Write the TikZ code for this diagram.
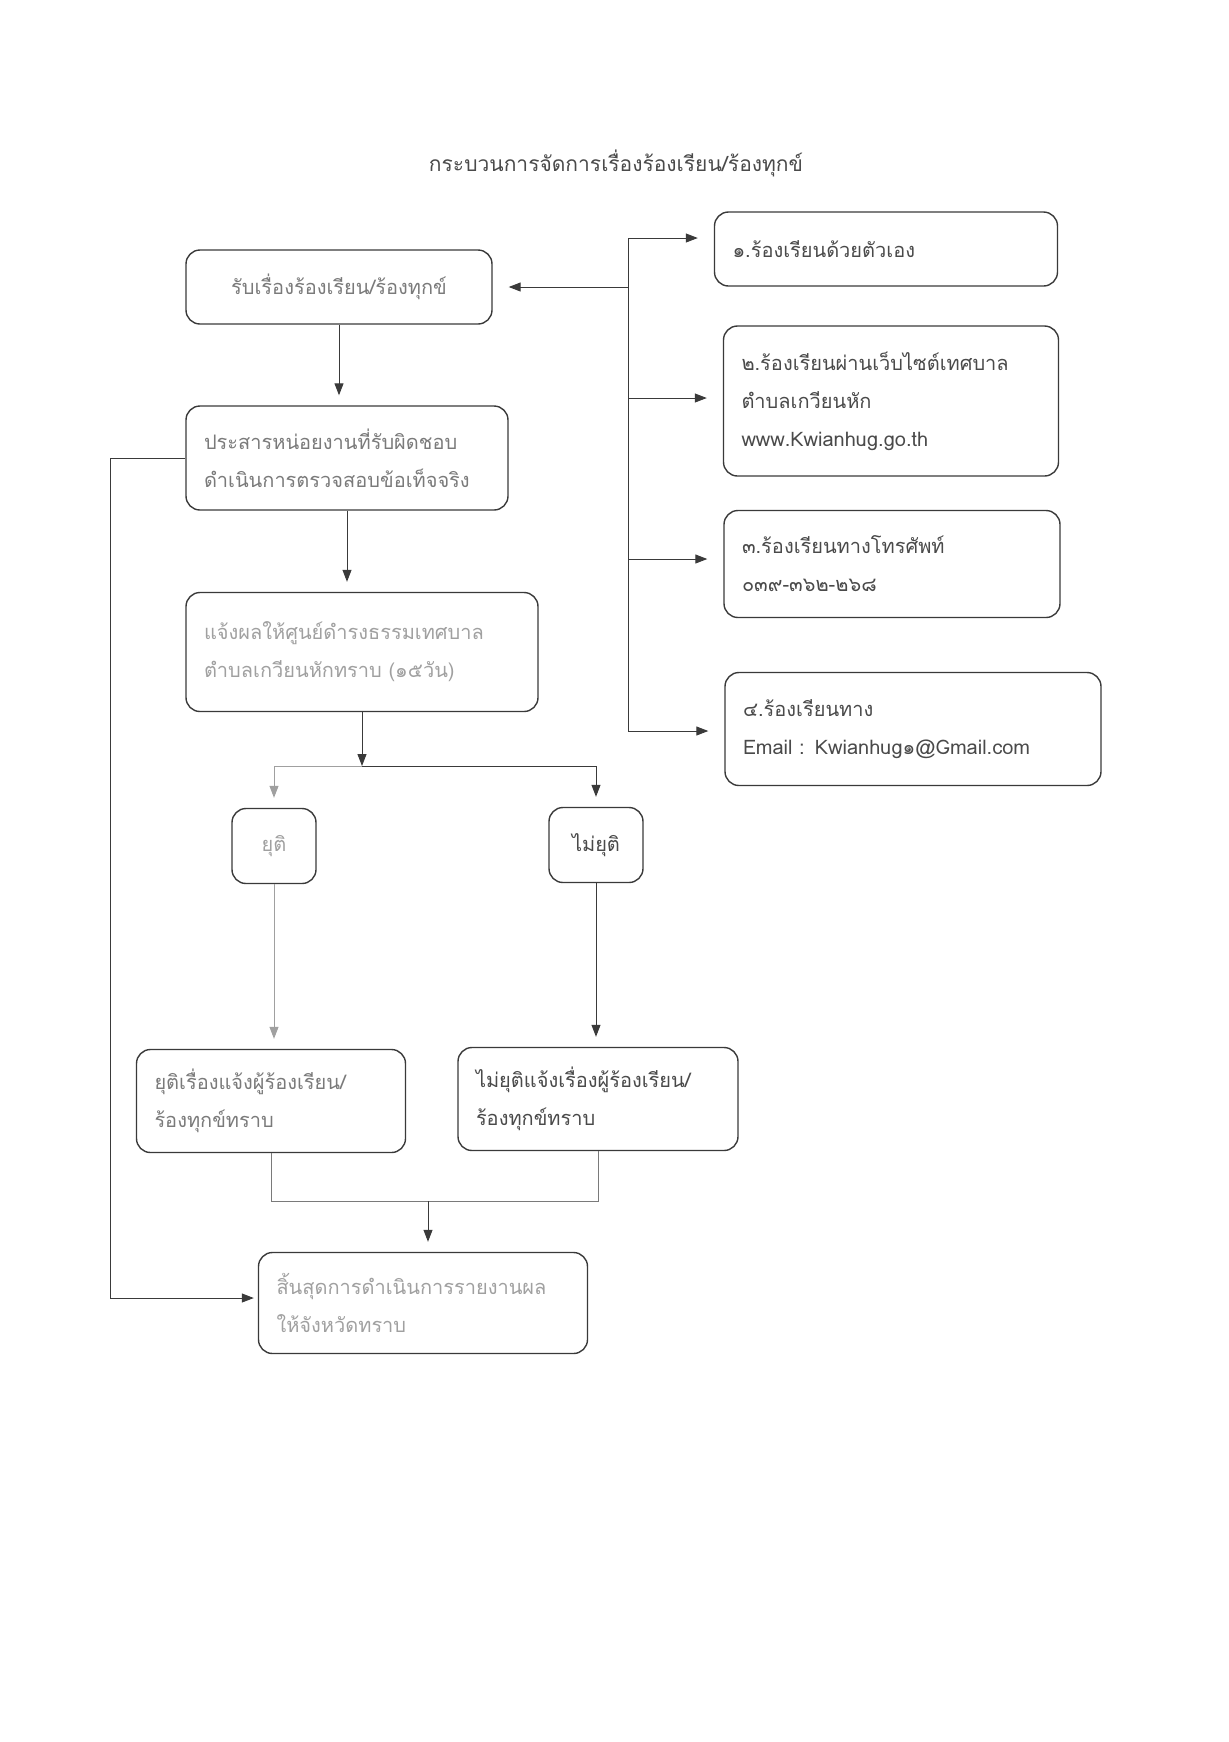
\documentclass[tikz,border=0pt]{standalone}
\usepackage{fontspec}
\setmainfont[Script=Thai]{Loma}
\usepackage{xcolor}
\usetikzlibrary{arrows.meta}
\definecolor{boxline}{HTML}{3A3A3A}
\definecolor{inkdark}{HTML}{4A4A4A}
\definecolor{inkmid}{HTML}{7A7A7A}
\definecolor{inklight}{HTML}{A0A0A0}

\begin{document}
\begin{tikzpicture}[x=0.5pt,y=-0.5pt,
        box/.style={draw=boxline, line width=0.7pt, rounded corners=7pt, inner xsep=9pt,
                    align=left, font=\fontsize{10}{19}\selectfont},
        arr/.style={draw=boxline, line width=0.5pt, -{Triangle[length=6pt,width=4.5pt]}, shorten >=5pt},
        line/.style={draw=boxline, line width=0.5pt}]
        \useasboundingbox (0,0) rectangle (1228,1742);
        \node(title) at (616,163) [font=\fontsize{10.5}{19}\selectfont, text=inkdark] {กระบวนการจัดการเรื่องร้องเรียน/ร้องทุกข์};
        \node(recv) at (339,287) [box, align=center, text=inkmid, minimum width=153pt, minimum height=37pt, text width=135pt] {รับเรื่องร้องเรียน/ร้องทุกข์};
        \node(coord) at (347,458) [box, text=inkmid, minimum width=161pt, minimum height=52pt, text width=143pt] {ประสารหน่อยงานที่รับผิดชอบ\\ดำเนินการตรวจสอบข้อเท็จจริง};
        \node(notify) at (362,652) [box, text=inklight, minimum width=176pt, minimum height=59.5pt, text width=158pt] {แจ้งผลให้ศูนย์ดำรงธรรมเทศบาล\\ตำบลเกวียนหักทราบ (๑๕วัน)};
        \node(stop) at (274,846) [box, align=center, text=inklight, inner xsep=2pt, minimum width=42pt, minimum height=37.5pt, text width=38pt] {ยุติ};
        \node(nostop) at (596,845) [box, align=center, text=inkdark, inner xsep=2pt, minimum width=47pt, minimum height=37.5pt, text width=43pt] {ไม่ยุติ};
        \node(stopmsg) at (271,1101) [box, text=inkmid, minimum width=134.5pt, minimum height=51.5pt, text width=116.5pt] {ยุติเรื่องแจ้งผู้ร้องเรียน/\\ร้องทุกข์ทราบ};
        \node(nostopmsg) at (598,1099) [box, text=inkdark, minimum width=140pt, minimum height=51.5pt, text width=122pt] {ไม่ยุติแจ้งเรื่องผู้ร้องเรียน/\\ร้องทุกข์ทราบ};
        \node(finish) at (423,1303) [box, text=inklight, minimum width=164.5pt, minimum height=50.5pt, text width=146.5pt] {สิ้นสุดการดำเนินการรายงานผล\\ให้จังหวัดทราบ};
        \node(ch1) at (886,249) [box, text=inkdark, minimum width=171.5pt, minimum height=37pt, text width=153.5pt] {๑.ร้องเรียนด้วยตัวเอง};
        \node(ch2) at (891,401) [box, text=inkdark, minimum width=167.5pt, minimum height=75pt, text width=149.5pt] {๒.ร้องเรียนผ่านเว็บไซต์เทศบาล\\ตำบลเกวียนหัก\\www.Kwianhug.go.th};
        \node(ch3) at (892,564) [box, text=inkdark, minimum width=168pt, minimum height=53.5pt, text width=150pt] {๓.ร้องเรียนทางโทรศัพท์\\๐๓๙-๓๖๒-๒๖๘};
        \node(ch4) at (913,729) [box, text=inkdark, minimum width=188pt, minimum height=56.5pt, text width=170pt] {๔.ร้องเรียนทาง\\Email : Kwianhug๑@Gmail.com};
        \coordinate(trunk) at (628,0);
        \coordinate(split) at (362,766);
        \coordinate(merge) at (428,1201);
        \coordinate(back) at (110,0);
        \coordinate(in1) at ([yshift=5.5pt]ch1.west);
        \coordinate(in2) at ([yshift=1.5pt]ch2.west);
        \coordinate(in3) at ([yshift=2.5pt]ch3.west);
        \coordinate(in4) at ([yshift=-1pt]ch4.west);
        \coordinate(endin) at ([yshift=2.5pt]finish.west);
        \draw[line](trunk |- in1)--(trunk |- in4);
        \foreach \n in {in1,in2,in3,in4}
            \draw[arr, shorten >=8pt](trunk |- \n)--(\n);
        \draw[arr, shorten >=8pt](trunk |- recv.east)--(recv.east);
        \draw[arr](recv.south)--(recv.south |- coord.north);
        \draw[arr](coord.south)--(coord.south |- notify.north);
        \draw[arr, shorten >=0pt](notify.south)--(split);
        \draw[arr, draw=inklight](split)-|(stop.north);
        \draw[arr](split)-|(nostop.north);
        \draw[arr, draw=inklight](stop.south)--(stop.south |- stopmsg.north);
        \draw[arr](nostop.south)--(nostop.south |- nostopmsg.north);
        \draw[line, draw=inkmid](stopmsg.south)|-(merge)-|(nostopmsg.south);
        \draw[arr](merge)--(merge |- finish.north);
        \draw[arr, shorten >=2pt](coord.west)--(coord.west -| back)|-(endin);
\end{tikzpicture}
\end{document}
